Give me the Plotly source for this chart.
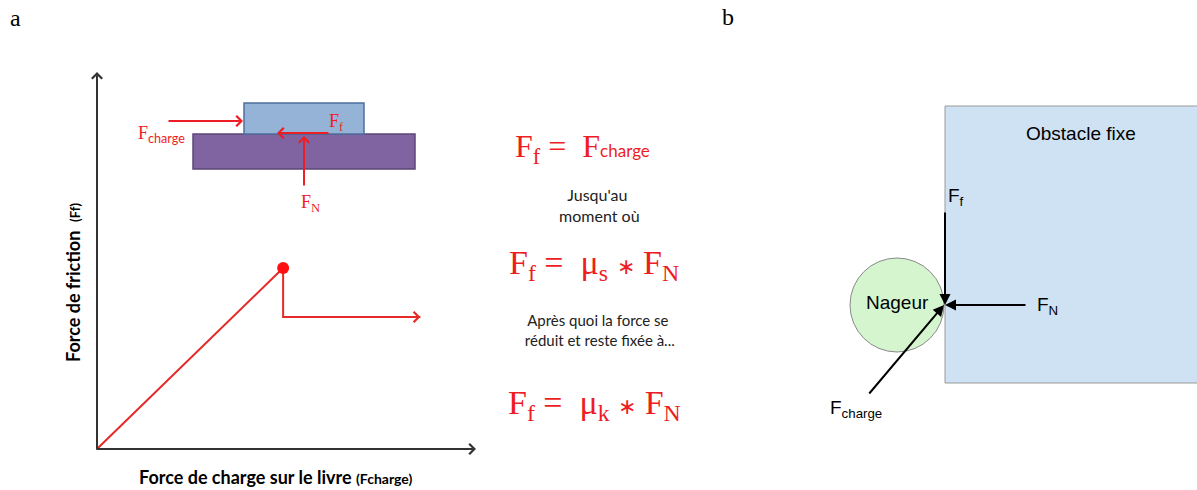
import plotly.graph_objects as go

# ---------------- data ----------------
# Panel a: friction force vs applied load (arbitrary units)
charge_load = [0, 4.95, 4.95, 8.6]
friction_force = [0, 4.84, 3.53, 3.53]
peak_load = [4.95]
peak_friction = [4.84]

panel_labels = ["a", "b"]
eq_texts = [
    'F<sub>f</sub> =  F<span style="font-family:Lato;font-size:17px">charge</span>',
    'F<sub>f</sub> =  μ<sub>s</sub> <span style="font-size:22px">∗</span> F<sub>N</sub>',
    'F<sub>f</sub> =  μ<sub>k</sub> <span style="font-size:22px">∗</span> F<sub>N</sub>',
]
note_texts = ["Jusqu'au<br> moment où", "Après quoi la force se<br> réduit et reste fixée à..."]
ylabel_text = 'Force de friction  <span style="font-size:13px">(Ff)</span>'
xlabel_text = 'Force de charge sur le livre <span style="font-size:14px">(Fcharge)</span>'
obstacle_text = "Obstacle fixe"
swimmer_text = "Nageur"

W, H = 1197, 490
RED = "#ee1d23"
RED_LINE = "#e52a2a"

fig = go.Figure()

# friction curve on its own axis
fig.add_trace(go.Scatter(x=charge_load, y=friction_force, mode="lines",
                         line=dict(color=RED_LINE, width=2), xaxis="x2", yaxis="y2",
                         hoverinfo="skip", showlegend=False))
fig.add_trace(go.Scatter(x=peak_load, y=peak_friction, mode="markers",
                         marker=dict(color="#ff1010", size=12), xaxis="x2", yaxis="y2",
                         hoverinfo="skip", showlegend=False))

shapes = []
ann = []


def arrow(x0, y0, x1, y1, color, width=2, head=4, size=1.0, ref=("x", "y")):
    ann.append(dict(x=x1, y=y1, ax=x0, ay=y0, xref=ref[0], yref=ref[1],
                    axref=ref[0], ayref=ref[1], text="", showarrow=True,
                    arrowhead=head, arrowwidth=width, arrowcolor=color,
                    arrowsize=size, standoff=0, startstandoff=0))


def text(x, y, t, size, color="black", family="Lato", xanchor="center", yanchor="middle", angle=0):
    ann.append(dict(x=x, y=y, xref="x", yref="y", text=t, showarrow=False,
                    font=dict(size=size, color=color, family=family),
                    xanchor=xanchor, yanchor=yanchor, textangle=angle))


# panel labels
text(15, 18, panel_labels[0], 24, family="Liberation Serif")
text(728, 17, panel_labels[1], 24, family="Liberation Serif")

# axes arrows of panel a
arrow(97, 451, 97, 72, "#333333", width=2, head=4)
arrow(95, 449, 476, 449, "#333333", width=2, head=4)

# plateau arrowhead
arrow(8.0, 3.53, 8.6, 3.53, RED_LINE, width=2, head=4, ref=("x2", "y2"))

# blocks
shapes.append(dict(type="rect", xref="x", yref="y", x0=193, x1=415, y0=134, y1=169,
                   fillcolor="#8064a2", line=dict(color="#5a4677", width=1.5)))
shapes.append(dict(type="rect", xref="x", yref="y", x0=244, x1=364, y0=103, y1=134,
                   fillcolor="#95b3d7", line=dict(color="#4f6fa0", width=1.5)))

# block forces
arrow(167, 121, 243, 121, RED)
arrow(330, 133, 277, 133, RED)
arrow(304, 187, 304, 136, RED)
text(161, 134, 'F<sub><span style="font-family:Lato">charge</span></sub>', 18, RED, "Liberation Serif")
text(336, 122, "F<sub>f</sub>", 18, RED, "Liberation Serif")
text(310, 203, "F<sub>N</sub>", 18, RED, "Liberation Serif")

# axis titles
text(73, 283, "<b>" + ylabel_text + "</b>", 18, "black", "Lato", angle=-90)
text(275, 477, "<b>" + xlabel_text + "</b>", 18, "black", "Lato")

# equations and notes
text(582, 148, eq_texts[0], 32, RED, "Liberation Serif")
ann.append(dict(x=597, y=205, xref="x", yref="y", text=note_texts[0], showarrow=False,
                font=dict(size=16, color="#222222", family="Lato"), align="center"))
text(594, 265, eq_texts[1], 34, RED, "Liberation Serif")
ann.append(dict(x=598, y=330, xref="x", yref="y", text=note_texts[1], showarrow=False,
                font=dict(size=15, color="#222222", family="Lato"), align="center"))
text(594, 405, eq_texts[2], 34, RED, "Liberation Serif")

# panel b
shapes.append(dict(type="rect", xref="x", yref="y", x0=945, x1=1205, y0=106, y1=383,
                   fillcolor="#cfe2f3", line=dict(color="#9a9a9a", width=1)))
shapes.append(dict(type="circle", xref="x", yref="y", x0=850, x1=944, y0=258, y1=352,
                   fillcolor="#d5f5cf", line=dict(color="#8a8a8a", width=1)))
text(1081, 133, obstacle_text, 19, "black", "Liberation Sans")
text(897, 302, swimmer_text, 19, "black", "Liberation Sans")

arrow(945, 211, 945, 305, "black", width=2, head=2, size=1.1)
arrow(1027, 305, 945, 305, "black", width=2, head=2, size=1.1)
arrow(868, 395, 944, 305, "black", width=2, head=2, size=1.1)
text(946, 197, "F<sub>f</sub>", 19, "black", "Liberation Sans", xanchor="left")
text(1035, 306, "F<sub>N</sub>", 19, "black", "Liberation Sans", xanchor="left")
text(828, 409, "F<sub>charge</sub>", 19, "black", "Liberation Sans", xanchor="left")

hidden = dict(visible=False, showgrid=False, zeroline=False, fixedrange=True)
fig.update_layout(
    width=W, height=H, autosize=False,
    margin=dict(l=0, r=0, t=0, b=0),
    paper_bgcolor="white", plot_bgcolor="rgba(0,0,0,0)",
    xaxis=dict(range=[0, W], domain=[0, 1], **hidden),
    yaxis=dict(range=[H, 0], domain=[0, 1], **hidden),
    xaxis2=dict(range=[0, 10], domain=[97 / W, 473 / W], anchor="y2", **hidden),
    yaxis2=dict(range=[0, 10], domain=[1 - 449 / H, 1 - 75 / H], anchor="x2", **hidden),
    shapes=shapes, annotations=ann, showlegend=False,
)
fig.write_html("out.html", config={"displayModeBar": False},
               post_script="document.body.style.margin='0px';document.body.style.overflow='hidden';")
